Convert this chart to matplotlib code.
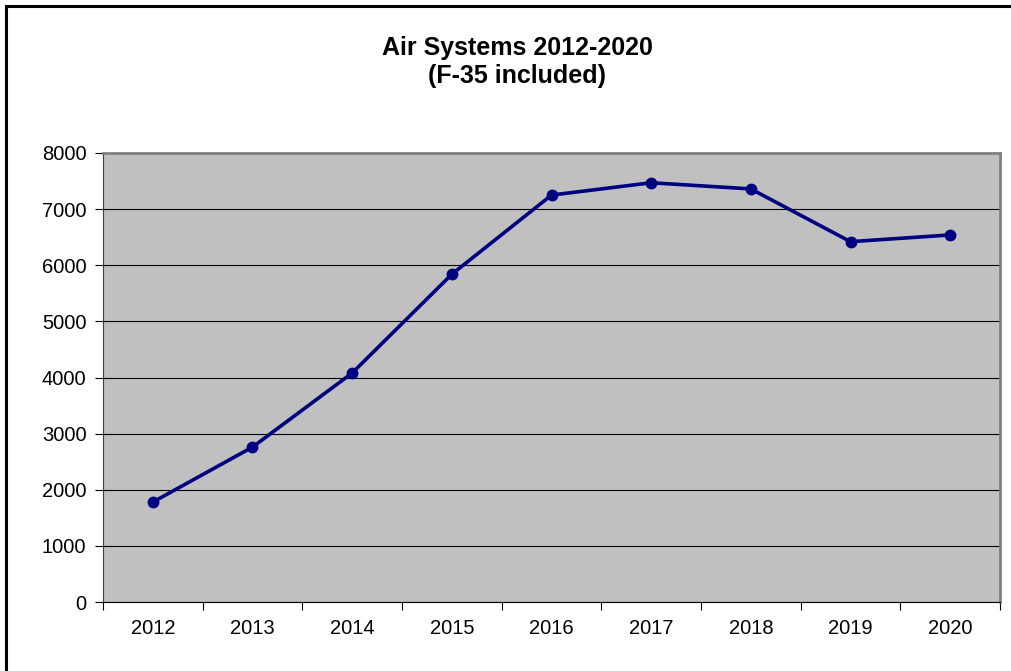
import matplotlib.pyplot as plt
from matplotlib.patches import Rectangle

plt.rcParams['font.family'] = ['Liberation Sans', 'DejaVu Sans']

years = ['2012', '2013', '2014', '2015', '2016', '2017', '2018', '2019', '2020']
values = [1780, 2760, 4080, 5840, 7250, 7470, 7360, 6420, 6540]

fig = plt.figure(figsize=(10.11, 6.71), dpi=100)
ax = fig.add_axes([103 / 1011, 1 - 602 / 671, 897 / 1011, 449 / 671])

# outer frame (only left/top visible in the original)
fig.patches.append(Rectangle((6 / 1011, -0.1), 1.2, 1 - 6 / 671 + 0.1,
                             transform=fig.transFigure, fill=False,
                             edgecolor='black', linewidth=2.2))

x = range(len(years))
ax.set_facecolor('#c0c0c0')
ax.plot(x, values, color='#000080', linewidth=2.6, marker='o', markersize=7.5)

ax.set_xlim(-0.5, len(years) - 0.5)
ax.set_ylim(0, 8000)
ax.set_yticks(range(0, 8001, 1000))
ax.yaxis.grid(True, color='black', linewidth=0.8)
ax.set_axisbelow(True)

ax.set_xticks([i - 0.5 for i in range(len(years) + 1)])
ax.set_xticklabels([])
ax.set_xticks(list(x), minor=True)
ax.set_xticklabels(years, minor=True)
ax.tick_params(axis='x', which='minor', length=0, pad=12, labelsize=14.5)
ax.tick_params(axis='x', which='major', length=6, direction='out')
ax.tick_params(axis='y', length=6, direction='out', labelsize=14.5, pad=6)

for s in ['top', 'right']:
    ax.spines[s].set_color('#808080')
    ax.spines[s].set_linewidth(2)
ax.spines['left'].set_color('#404040')
ax.spines['bottom'].set_color('black')

fig.text(517 / 1011, 1 - 62 / 671, 'Air Systems 2012-2020\n(F-35 included)',
         ha='center', va='center', fontsize=18, fontweight='bold',
         linespacing=1.25)

fig.savefig('out.png', dpi=100)
